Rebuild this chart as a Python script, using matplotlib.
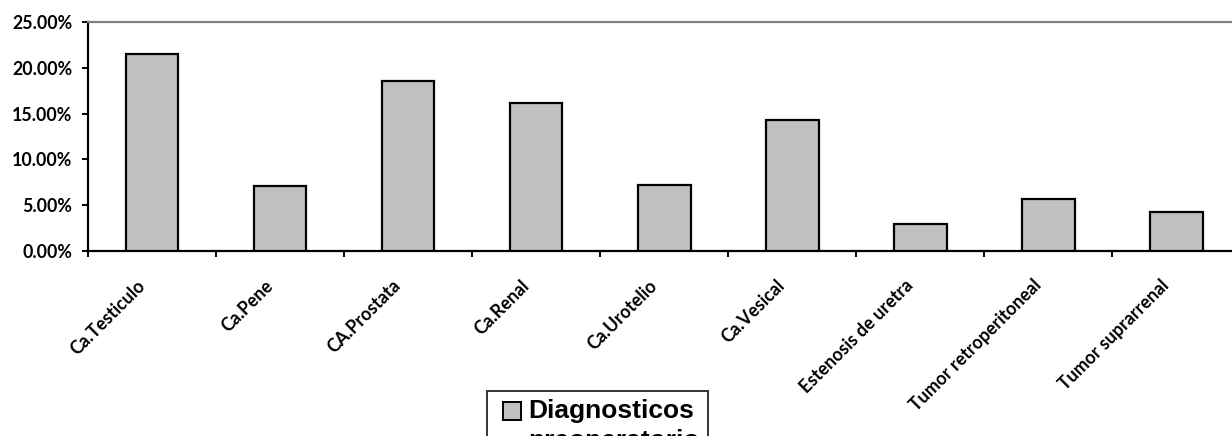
import matplotlib
matplotlib.use("Agg")
import matplotlib.pyplot as plt
from matplotlib.ticker import FuncFormatter, FixedLocator
from matplotlib.patches import Patch, Rectangle
from matplotlib.legend_handler import HandlerPatch
from matplotlib.transforms import ScaledTranslation

categories = ["Ca.Testiculo", "Ca.Pene", "CA.Prostata", "Ca.Renal", "Ca.Urotelio",
              "Ca.Vesical", "Estenosis de uretra", "Tumor retroperitoneal",
              "Tumor suprarrenal"]
percentages = [21.5, 7.1, 18.6, 16.2, 7.2, 14.3, 2.9, 5.7, 4.3]
y_ticks = [0, 5, 10, 15, 20, 25]
series_label = "Diagnosticos\npreoperatorio"

plt.rcParams["font.family"] = ["Lato", "DejaVu Sans"]
plt.rcParams["font.weight"] = "bold"
plt.rcParams["xtick.labelsize"] = 12.8
plt.rcParams["ytick.labelsize"] = 12.8

W, H = 1232, 436
fig = plt.figure(figsize=(W / 100, H / 100), dpi=100)
left, right, bottom, top = 88, 1240.5, 251, 22
ax = fig.add_axes([left / W, 1 - bottom / H, (right - left) / W, (bottom - top) / H])

centers = [i + 0.5 for i in range(len(categories))]
ax.bar(centers, percentages, width=0.41, color="#C0C0C0", edgecolor="black",
       linewidth=1.6, zorder=3)

ax.set_xlim(0, len(categories))
ax.set_ylim(0, 25)

ax.yaxis.set_major_locator(FixedLocator(y_ticks))
ax.yaxis.set_major_formatter(FuncFormatter(lambda v, p: f"{v:.2f}%"))
ax.tick_params(axis="y", direction="out", length=4.3, width=1.4, pad=7)

# category boundaries carry the tick marks, centres carry the labels
ax.xaxis.set_major_locator(FixedLocator(range(len(categories) + 1)))
ax.xaxis.set_major_formatter(FuncFormatter(lambda v, p: ""))
ax.tick_params(axis="x", which="major", direction="out", length=4.3, width=1.4)
ax.tick_params(axis="x", which="minor", length=0, pad=18.5)
ax.set_xticks(centers, minor=True)
ax.set_xticklabels(categories, minor=True, rotation=45, ha="right", va="top",
                   rotation_mode="anchor")
shift = ScaledTranslation(-0.16, 0, fig.dpi_scale_trans)
for tick in ax.xaxis.get_minor_ticks():
    tick.label1.set_transform(tick.label1.get_transform() + shift)

for side in ("left", "bottom"):
    ax.spines[side].set_color("black")
    ax.spines[side].set_linewidth(1.6)
ax.spines["top"].set_color("#808080")
ax.spines["top"].set_linewidth(1.6)
ax.spines["right"].set_visible(False)


def square_key(legend, orig_handle, xdescent, ydescent, width, height, fontsize):
    side = 0.68 * fontsize
    return Rectangle((-xdescent + width - side, -ydescent + 0.58 * fontsize), side, side)


handle = Patch(facecolor="#C0C0C0", edgecolor="black", linewidth=1.4)
leg = fig.legend([handle], [series_label], loc="upper left",
                 bbox_to_anchor=(487 / W, 1 - 391 / H),
                 prop=dict(family=["Liberation Sans", "DejaVu Sans"], weight="bold", size=19),
                 frameon=True, fancybox=False, borderpad=0.3, handlelength=1.0,
                 handleheight=0.7, handletextpad=0.27, borderaxespad=0,
                 handler_map={Patch: HandlerPatch(patch_func=square_key)})
leg.get_texts()[0].set_linespacing(1.3)
leg.get_frame().set_edgecolor("black")
leg.get_frame().set_linewidth(1.4)

fig.savefig("out.png", dpi=100)
